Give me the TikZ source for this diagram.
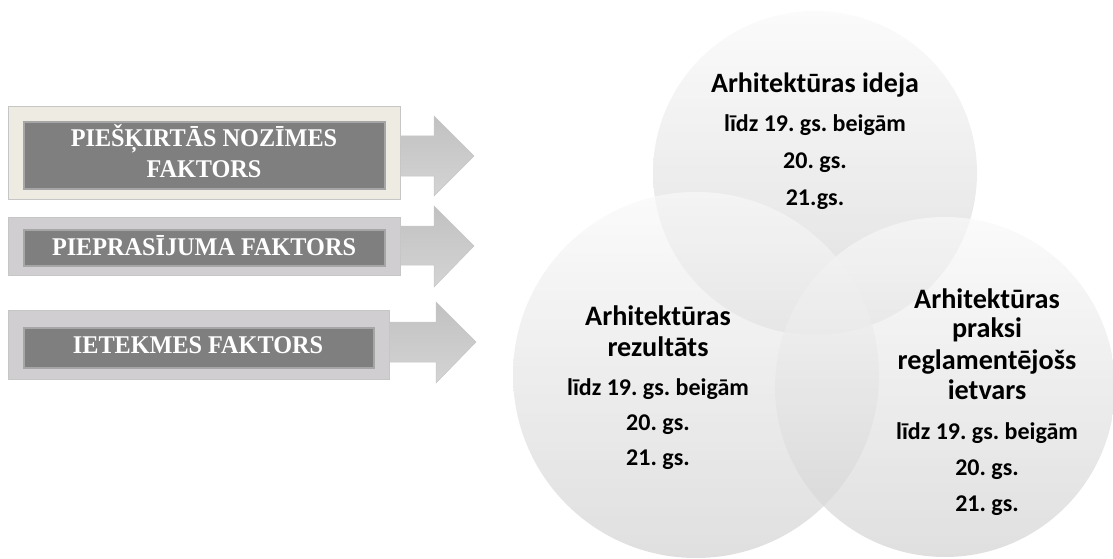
\documentclass[tikz,border=0pt]{standalone}
\usepackage{fontspec}
\newfontfamily\carl{Carlito}
\newfontfamily\boxserif[FakeStretch=0.95]{Liberation Serif}
\frenchspacing
\begin{document}
\begin{tikzpicture}[x=1pt,y=-1pt,
  venn/.style={fill opacity=0.7, top color=vtop, bottom color=vbot, draw=none},
  arrowshape/.style={top color=arrtop, bottom color=arrbot, draw=arrline, line width=0.5pt},
  outerA/.style={draw=outerline, line width=1pt, fill=beigefill, minimum width=392pt, minimum height=92pt, inner sep=0pt},
  outerB/.style={draw=outerline, line width=1pt, fill=grayfill, inner sep=0pt},
  innerbox/.style={draw=innerline, line width=1.2pt, fill=innerfill, inner sep=0pt},
  boxtext/.style={text=white, font=\boxserif\bfseries\fontsize{25.5}{31}\selectfont, anchor=base, inner sep=0pt},
  ctitle/.style={font=\carl\bfseries\fontsize{28}{32}\selectfont, anchor=base, inner sep=0pt},
  ctitleB/.style={font=\carl\bfseries\fontsize{28.2}{32}\selectfont, anchor=base, inner sep=0pt},
  csub/.style={font=\carl\bfseries\fontsize{24}{28}\selectfont, anchor=base, inner sep=0pt}
]
\definecolor{vtop}{HTML}{F9F9F9}
\definecolor{vbot}{HTML}{D2D2D2}
\definecolor{arrtop}{HTML}{C1C1C1}
\definecolor{arrbot}{HTML}{D4D4D4}
\definecolor{arrline}{HTML}{C6C6C6}
\definecolor{outerline}{HTML}{C6C6C6}
\definecolor{beigefill}{HTML}{EEEBE2}
\definecolor{grayfill}{HTML}{D0CED0}
\definecolor{innerline}{HTML}{A6A6A6}
\definecolor{innerfill}{HTML}{7F7F7F}
\useasboundingbox (0,0) rectangle (1113,559);

% Venn circles
\shade[venn] (815,173) circle[radius=162pt];
\shade[venn] (696,375) circle[radius=183pt];
\shade[venn] (945,387) circle[radius=170pt];

% arrows
\shade[arrowshape] (395,136) -- (434,136) -- (434,116) -- (474,156) -- (434,196) -- (434,176) -- (395,176) -- cycle;
\shade[arrowshape] (395,226) -- (434,226) -- (434,206) -- (474,246) -- (434,287) -- (434,265) -- (395,265) -- cycle;
\shade[arrowshape] (384,322) -- (436,322) -- (436,302) -- (476,342) -- (436,383) -- (436,362) -- (384,362) -- cycle;

% boxes
\node[outerA] (o1) at (204,153) {};
\node[innerbox, minimum width=361pt, minimum height=67pt] (i1) at (204.5,155.5) {};
\node[outerB, minimum width=392pt, minimum height=58pt] (o2) at (204,246) {};
\node[innerbox, minimum width=361pt, minimum height=36pt] (i2) at (204.5,248) {};
\node[outerB, minimum width=381pt, minimum height=69pt] (o3) at (198.5,344.5) {};
\node[innerbox, minimum width=350pt, minimum height=40pt] (i3) at (199,348) {};

\node[boxtext] (t1a) at (204,146.7) {PIEŠĶIRTĀS NOZĪMES};
\node[boxtext] (t1b) at (204,177.7) {FAKTORS};
\node[boxtext] (t2) at (204,255) {PIEPRASĪJUMA FAKTORS};
\node[boxtext] (t3) at (198,353.3) {IETEKMES FAKTORS};

% top circle text
\node[ctitle] (a1) at (815,93) {Arhitektūras ideja};
\node[csub] (a2) at (815,131.5) {līdz 19. gs. beigām};
\node[csub] (a3) at (815,168.5) {20. gs.};
\node[csub] (a4) at (815,205) {21.gs.};

% left circle text
\node[ctitleB] (b1) at (658,325) {Arhitektūras};
\node[ctitleB] (b2) at (658,356) {rezultāts};
\node[csub] (b3) at (658,395.5) {līdz 19. gs. beigām};
\node[csub] (b4) at (658,430) {20. gs.};
\node[csub] (b5) at (658,465) {21. gs.};

% right circle text
\node[ctitleB] (c1) at (987,308) {Arhitektūras};
\node[ctitleB] (c2) at (987,337) {praksi};
\node[ctitleB] (c3) at (987,369) {reglamentējošs};
\node[ctitleB] (c4) at (987,399) {ietvars};
\node[csub] (c5) at (987,439.5) {līdz 19. gs. beigām};
\node[csub] (c6) at (987,475) {20. gs.};
\node[csub] (c7) at (987,511) {21. gs.};
\end{tikzpicture}
\end{document}
